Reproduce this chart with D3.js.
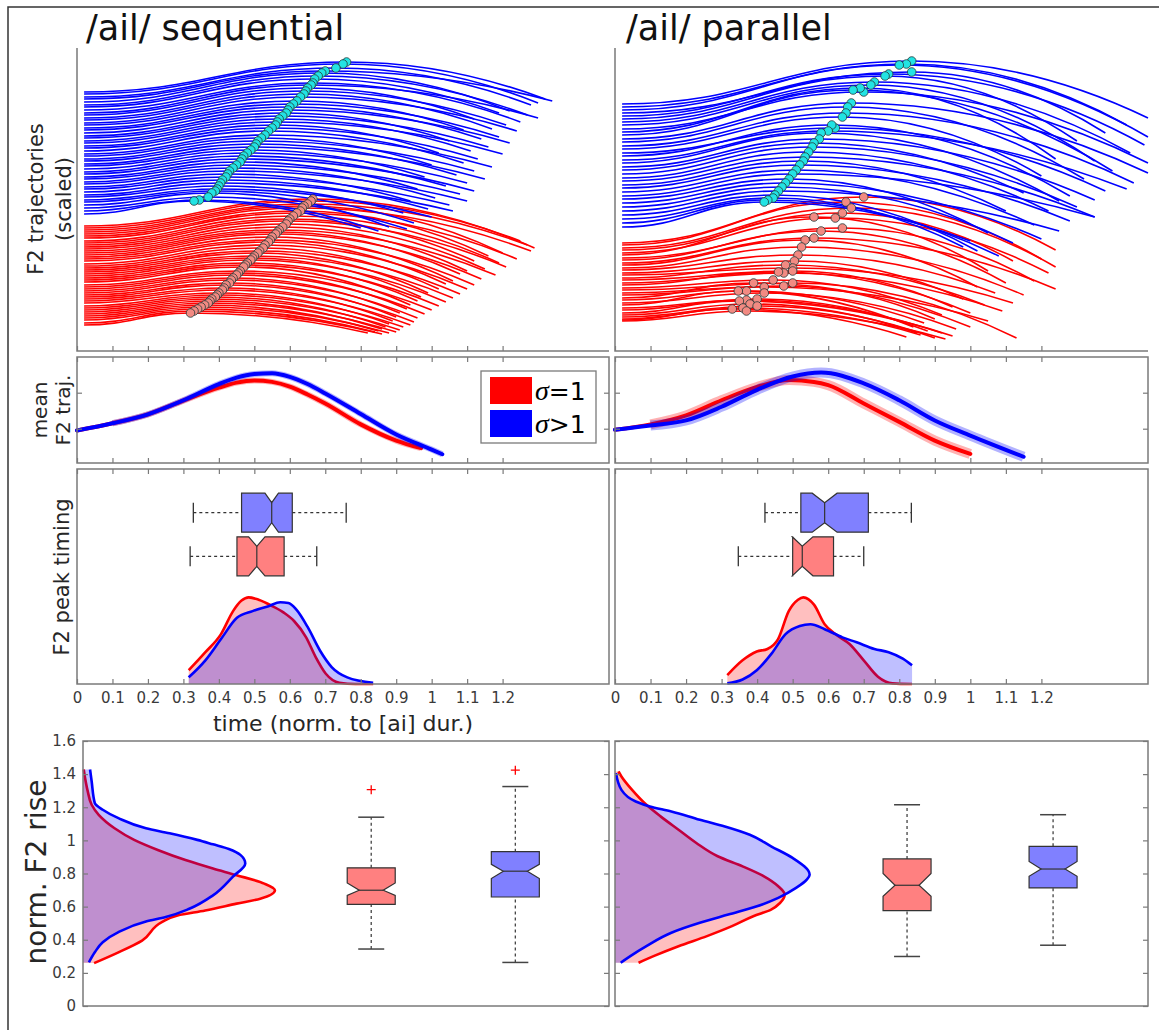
<!DOCTYPE html>
<html>
<head>
<meta charset="utf-8">
<script src="https://cdn.jsdelivr.net/npm/d3@7"></script>
<style>
  body { margin: 0; background: #fff; }
  svg text { font-family: "DejaVu Sans", Verdana, sans-serif; }
</style>
</head>
<body>
<script>
'use strict';

// ---------------- data ----------------
const panelTitles = ["/ail/ sequential", "/ail/ parallel"];
const timeTicks = [0, 0.1, 0.2, 0.3, 0.4, 0.5, 0.6, 0.7, 0.8, 0.9, 1, 1.1, 1.2];
const meanTicks = [0, 1];
const riseTicks = [0, 0.2, 0.4, 0.6, 0.8, 1, 1.2, 1.4, 1.6];
const legendLabels = [["σ", "=1"], ["σ", ">1"]];
const trajStartTime = 0.02;

// single trajectories: [startF2, peakTime, peakF2, endTime, endF2]
const seqBlueTraj = [
  [259,0.76,289,1.32,252],[257,0.75,287,1.30,248],[254,0.73,283,1.28,246],[252,0.70,280,1.34,250],
  [249,0.69,278,1.22,240],[246,0.68,275,1.27,236],[244,0.67,272,1.19,238],[241,0.665,268,1.25,229],
  [238,0.66,266,1.30,233],[236,0.65,263,1.12,232],[233,0.645,260,1.21,226],[231,0.64,257,1.17,222],
  [228,0.63,254,1.24,220],[226,0.62,250,1.09,221],[223,0.61,247,1.19,214],[221,0.60,244,1.14,212],
  [218,0.595,241,1.22,208],[215,0.59,238,1.05,210],[213,0.58,235,1.16,204],[210,0.57,232,1.11,200],
  [208,0.565,229,1.20,197],[205,0.56,226,1.02,198],[203,0.55,223,1.13,192],[200,0.54,220,1.09,188],
  [197,0.53,216,1.17,184],[195,0.52,213,1.00,186],[192,0.51,210,1.12,180],[190,0.505,207,1.07,176],
  [187,0.50,204,1.15,172],[185,0.49,201,0.98,174],[182,0.48,198,1.10,168],[179,0.47,195,1.04,165],
  [177,0.465,192,1.12,160],[174,0.46,189,0.96,162],[172,0.45,186,1.08,157],[169,0.44,183,1.01,153],
  [167,0.43,180,1.10,150],[164,0.425,177,0.94,150],[162,0.42,174,1.05,146],[159,0.41,171,0.99,142],
  [156,0.405,168,1.06,140],[154,0.40,165,0.92,138],[151,0.395,162,1.00,134],[149,0.39,160,0.95,128],
  [146,0.38,158,0.88,124],[143,0.37,154,0.93,122],[140,0.345,151,0.85,120],[137,0.33,150,0.80,123]
];
const seqRedTraj = [
  [125,0.665,152,1.29,103],[123,0.66,150,1.25,110],[121,0.65,147,1.27,106],[119,0.64,145,1.20,98],
  [117,0.635,143,1.28,100],[115,0.63,140,1.16,95],[113,0.62,138,1.24,92],[110,0.61,135,1.19,88],
  [108,0.60,132,1.12,90],[106,0.595,130,1.21,84],[104,0.59,127,1.15,82],[102,0.58,124,1.10,80],
  [100,0.57,121,1.18,76],[98,0.565,119,1.08,77],[96,0.56,117,1.14,72],[94,0.55,114,1.06,70],
  [92,0.545,111,1.12,66],[90,0.54,109,1.04,67],[87,0.53,106,1.10,62],[85,0.525,103,1.02,62],
  [83,0.515,100,1.08,57],[81,0.51,98,0.99,58],[79,0.50,95,1.06,53],[77,0.495,93,0.97,54],
  [75,0.49,91,1.04,49],[73,0.48,88,0.96,50],[71,0.475,86,1.02,45],[69,0.47,84,0.94,46],
  [66,0.46,80,1.00,41],[64,0.455,78,0.93,42],[62,0.45,76,0.98,37],[60,0.44,73,0.91,38],
  [58,0.435,71,0.96,33],[56,0.43,68,0.90,34],[54,0.42,66,0.95,29],[52,0.415,63,0.89,30],
  [50,0.41,61,0.94,26],[48,0.40,58,0.88,27],[45,0.395,56,0.92,24],[43,0.39,54,0.87,24],
  [41,0.38,52,0.91,21],[39,0.375,50,0.86,22],[37,0.37,48,0.90,19],[35,0.36,46,0.85,20],
  [33,0.35,44,0.88,18],[31,0.34,42,0.84,19],[28,0.33,40,0.86,17],[26,0.32,38,0.82,18]
];
const parBlueTraj = [
  [247,0.835,290,1.50,233],[244,0.82,287,1.44,226],[241,0.80,286,1.50,214],[238,0.835,279,1.38,218],
  [235,0.77,277,1.49,206],[232,0.76,275,1.30,210],[229,0.73,269,1.45,198],[226,0.72,266,1.35,190],
  [222,0.70,259,1.50,188],[219,0.69,263,1.24,192],[216,0.67,261,1.40,180],[212,0.665,248,1.50,178],
  [209,0.655,244,1.32,172],[205,0.65,238,1.46,168],[202,0.64,234,1.20,175],[198,0.62,223,1.38,160],
  [195,0.61,226,1.28,155],[191,0.60,220,1.44,162],[188,0.58,218,1.25,150],[184,0.575,212,1.35,151],
  [181,0.56,208,1.15,158],[177,0.555,204,1.30,144],[173,0.545,199,1.22,140],[170,0.535,194,1.35,134],
  [166,0.53,190,1.10,140],[163,0.52,186,1.28,130],[159,0.51,181,1.18,126],[155,0.50,177,1.35,134],
  [152,0.49,172,1.05,118],[148,0.48,168,1.20,112],[144,0.47,164,1.12,108],[140,0.46,160,1.25,120],
  [136,0.45,156,1.02,100],[132,0.445,153,0.98,104],[128,0.43,151,1.08,95],[124,0.42,149,1.00,110]
];
const parRedTraj = [
  [108,0.70,154,1.24,101],[106,0.65,149,1.20,92],[103,0.665,143,1.24,84],[101,0.64,138,1.12,90],
  [98,0.62,133,1.22,78],[96,0.56,134,1.05,80],[93,0.64,123,1.18,70],[91,0.58,120,1.10,68],
  [88,0.56,113,1.24,62],[86,0.535,111,1.02,64],[83,0.525,104,1.15,56],[81,0.515,96,1.07,58],
  [78,0.505,90,0.98,52],[76,0.50,83,1.12,48],[73,0.48,86,1.04,46],[71,0.50,80,0.95,44],
  [68,0.475,78,1.09,40],[66,0.46,79,1.00,38],[63,0.445,71,0.92,36],[61,0.50,68,1.13,13],
  [58,0.42,64,1.05,30],[56,0.475,65,0.90,32],[53,0.39,68,1.00,24],[51,0.37,60,0.87,28],
  [48,0.42,58,0.96,22],[46,0.347,60,0.84,24],[43,0.37,51,0.92,18],[41,0.40,52,0.88,20],
  [38,0.35,50,0.95,15],[36,0.38,47,0.85,18],[34,0.40,45,0.90,13],[32,0.36,43,0.86,16],
  [31,0.33,42,0.82,14],[30,0.37,40,0.93,12]
];

// mean F2 trajectories: [time, value]
const seqMeanRed = [[0,-0.05],[0.1,0.15],[0.2,0.4],[0.3,0.78],[0.4,1.14],[0.45,1.28],[0.5,1.34],[0.55,1.3],
  [0.6,1.17],[0.65,0.95],[0.7,0.7],[0.8,0.12],[0.9,-0.33],[0.97,-0.54]];
const seqMeanBlue = [[0,-0.05],[0.1,0.15],[0.2,0.4],[0.3,0.79],[0.4,1.24],[0.45,1.42],[0.5,1.52],[0.55,1.54],
  [0.6,1.44],[0.65,1.24],[0.7,0.98],[0.8,0.41],[0.9,-0.16],[1.0,-0.58],[1.03,-0.71]];
const parMeanRed = [[0,-0.03],[0.1,0.12],[0.2,0.37],[0.3,0.79],[0.4,1.16],[0.49,1.35],[0.56,1.3],[0.6,1.21],
  [0.7,0.7],[0.8,0.19],[0.9,-0.33],[1.0,-0.7]];
const parMeanBlue = [[0,-0.03],[0.1,0.09],[0.2,0.23],[0.3,0.61],[0.4,1.08],[0.5,1.45],[0.58,1.56],[0.7,1.26],
  [0.8,0.79],[0.9,0.23],[1.0,-0.19],[1.15,-0.78]];

// boxplots: [whiskerLo, q1, notchLo, median, notchHi, q3, whiskerHi]
const seqPeakBoxRed = [0.319, 0.451, 0.484, 0.507, 0.530, 0.584, 0.676];
const seqPeakBoxBlue = [0.328, 0.464, 0.530, 0.549, 0.568, 0.607, 0.759];
const parPeakBoxRed = [0.347, 0.500, 0.499, 0.527, 0.557, 0.615, 0.700];
const parPeakBoxBlue = [0.422, 0.523, 0.555, 0.590, 0.625, 0.713, 0.834];

// peak timing densities: [time, density]
const seqPeakDensRed = [[0.315,0.064],[0.362,0.148],[0.406,0.232],[0.44,0.339],[0.464,0.388],[0.484,0.403],
  [0.512,0.392],[0.551,0.362],[0.584,0.331],[0.612,0.293],[0.646,0.217],[0.673,0.125],[0.701,0.049],
  [0.74,0.006],[0.785,0],[0.835,0]];
const seqPeakDensBlue = [[0.315,0.031],[0.362,0.11],[0.406,0.209],[0.451,0.308],[0.495,0.339],[0.54,0.362],
  [0.573,0.38],[0.596,0.377],[0.618,0.347],[0.651,0.263],[0.685,0.156],[0.718,0.079],[0.762,0.031],[0.835,0.006]];
const parPeakDensRed = [[0.316,0.041],[0.359,0.11],[0.399,0.151],[0.429,0.163],[0.459,0.209],[0.489,0.339],
  [0.515,0.392],[0.53,0.403],[0.56,0.369],[0.59,0.278],[0.62,0.232],[0.66,0.186],[0.7,0.11],[0.74,0.034],
  [0.781,0.003],[0.836,0]];
const parPeakDensBlue = [[0.316,0.003],[0.359,0.021],[0.399,0.064],[0.44,0.14],[0.48,0.232],[0.52,0.27],
  [0.55,0.278],[0.59,0.255],[0.64,0.217],[0.68,0.194],[0.73,0.163],[0.77,0.148],[0.81,0.118],[0.836,0.087]];

// normalised F2 rise
const seqRiseBoxRed = [0.344, 0.614, 0.668, 0.699, 0.743, 0.834, 1.140];
const seqRiseBoxBlue = [0.263, 0.658, 0.770, 0.814, 0.855, 0.932, 1.325];
const parRiseBoxRed = [0.299, 0.576, 0.663, 0.729, 0.800, 0.888, 1.215];
const parRiseBoxBlue = [0.367, 0.713, 0.783, 0.827, 0.873, 0.964, 1.155];
const seqRiseOutRed = [1.306];
const seqRiseOutBlue = [1.424];
const parRiseOutRed = [];
const parRiseOutBlue = [];

// rise densities: [rise, density]
const seqRiseDensRed = [[0.259,0.077],[0.324,0.246],[0.395,0.41],[0.506,0.547],[0.547,0.656],[0.577,0.848],
  [0.618,1.066],[0.648,1.23],[0.699,1.332],[0.739,1.258],[0.79,1.066],[0.83,0.902],[0.881,0.711],[0.942,0.519],
  [1.003,0.355],[1.073,0.219],[1.154,0.109],[1.215,0.06],[1.296,0.033],[1.428,0.005]];
const seqRiseDensBlue = [[0.263,0.041],[0.324,0.082],[0.385,0.137],[0.446,0.246],[0.51,0.437],[0.537,0.574],
  [0.587,0.738],[0.668,0.902],[0.78,1.039],[0.861,1.126],[0.911,1.094],[0.948,1.012],[0.976,0.902],
  [1.003,0.793],[1.043,0.601],[1.073,0.437],[1.134,0.246],[1.185,0.137],[1.225,0.082],[1.357,0.06],[1.428,0.049]];
const parRiseDensRed = [[0.261,0.161],[0.301,0.264],[0.361,0.435],[0.422,0.63],[0.482,0.801],[0.542,0.947],
  [0.582,1.069],[0.622,1.13],[0.673,1.162],[0.723,1.118],[0.783,1.02],[0.843,0.874],[0.904,0.703],[0.984,0.557],
  [1.064,0.435],[1.145,0.312],[1.215,0.215],[1.305,0.117],[1.386,0.044],[1.416,0.024]];
const parRiseDensBlue = [[0.261,0.039],[0.301,0.105],[0.361,0.215],[0.442,0.386],[0.502,0.581],[0.552,0.776],
  [0.602,0.972],[0.653,1.118],[0.713,1.24],[0.763,1.313],[0.793,1.333],[0.894,1.216],[0.964,1.069],[1.034,0.923],
  [1.084,0.752],[1.124,0.581],[1.175,0.386],[1.205,0.239],[1.235,0.142],[1.305,0.044],[1.406,0.007]];

// ---------------- drawing ----------------
const RED = "#ff0000", BLUE = "#0000ff";
const AXIS = "#7a7a7a";
let svg;

window.onload = function() {
  svg = d3.select("body").append("svg").attr("width", 1159).attr("height", 1030);

  // outer frame (only top and left edges visible)
  svg.append("path").attr("d", "M8,1030V7H1159").attr("fill", "none")
    .attr("stroke", "#333").attr("stroke-width", 1.5);

  const cols = [
    { x0: 77, x1: 609, rx0: 83, titleX: 86, title: panelTitles[0],
      traj: [seqRedTraj, seqBlueTraj], mean: [seqMeanRed, seqMeanBlue], band: 6,
      peakBox: [seqPeakBoxRed, seqPeakBoxBlue], peakDens: [seqPeakDensRed, seqPeakDensBlue],
      riseBox: [seqRiseBoxRed, seqRiseBoxBlue], riseOut: [seqRiseOutRed, seqRiseOutBlue],
      riseDens: [seqRiseDensRed, seqRiseDensBlue], first: true },
    { x0: 615, x1: 1148, rx0: 615, titleX: 626, title: panelTitles[1],
      traj: [parRedTraj, parBlueTraj], mean: [parMeanRed, parMeanBlue], band: 10,
      peakBox: [parPeakBoxRed, parPeakBoxBlue], peakDens: [parPeakDensRed, parPeakDensBlue],
      riseBox: [parRiseBoxRed, parRiseBoxBlue], riseOut: [parRiseOutRed, parRiseOutBlue],
      riseDens: [parRiseDensRed, parRiseDensBlue], first: false }
  ];
  cols.forEach(drawColumn);

  // y labels
  vLabel(36, 199, "F2 trajectories", 21);
  vLabel(64, 199, "(scaled)", 21);
  vLabel(40, 410, "mean", 20);
  vLabel(63, 410, "F2 traj.", 20);
  vLabel(62, 577, "F2 peak timing", 21);
  vLabel(36, 872, "norm. F2 rise", 28);

  svg.append("text").attr("x", 343).attr("y", 731).attr("text-anchor", "middle")
    .style("font-size", "22px").attr("fill", "#262626").text("time (norm. to [ai] dur.)");
};

function vLabel(x, y, txt, size) {
  svg.append("text").attr("transform", `translate(${x},${y}) rotate(-90)`)
    .attr("text-anchor", "middle").attr("dominant-baseline", "central")
    .style("font-size", size + "px").attr("fill", "#262626").text(txt);
}

function styleAxis(g) {
  g.select(".domain").remove();
  g.selectAll("line").attr("stroke", AXIS).attr("stroke-width", 1.2);
  g.selectAll("text").style("font-size", "15px").attr("fill", "#3a3a3a");
}

function boxFrame(x0, y0, x1, y1) {
  svg.append("rect").attr("x", x0).attr("y", y0).attr("width", x1 - x0).attr("height", y1 - y0)
    .attr("fill", "none").attr("stroke", AXIS).attr("stroke-width", 1.5);
}

function timeAxis(scale, y, orient, labels) {
  const ax = (orient === "bottom" ? d3.axisBottom(scale) : d3.axisTop(scale))
    .tickValues(timeTicks).tickSizeInner(-5).tickSizeOuter(0).tickPadding(8)
    .tickFormat(labels ? d3.format("~g") : "");
  svg.append("g").attr("transform", `translate(0,${y})`).call(ax).call(styleAxis);
}

function valueAxis(scale, ticks, x, orient, labels) {
  const ax = (orient === "left" ? d3.axisLeft(scale) : d3.axisRight(scale))
    .tickValues(ticks).tickSizeInner(-5).tickSizeOuter(0).tickPadding(7)
    .tickFormat(labels ? d3.format("~g") : "");
  svg.append("g").attr("transform", `translate(${x},0)`).call(ax).call(styleAxis);
}

// rise to the peak with flat ends, then a fall that steepens towards the end
function trajPath(r, x, y) {
  const p = d3.path();
  const xs = x(trajStartTime), ys = y(r[0]);
  const xp = x(r[1]), yp = y(r[2]);
  const xe = x(r[3]), ye = y(r[4]);
  const dx = xp - xs, dx2 = xe - xp;
  p.moveTo(xs, ys);
  p.bezierCurveTo(xs + dx * 0.45, ys, xp - dx * 0.45, yp, xp, yp);
  p.quadraticCurveTo(xp + dx2 * 0.5, yp, xe, ye);
  return p.toString();
}

function drawColumn(c) {
  const xT = d3.scaleLinear().domain([0, 1.5]).range([c.x0, c.x1]);
  const yTraj = d3.scaleLinear().domain([0, 303]).range([351, 48]);
  const yMean = d3.scaleLinear().domain([0, 1]).range([428.7, 392.7]);
  const yPeak = d3.scaleLinear().domain([0, 1]).range([684, 469]);
  const xRise = d3.scaleLinear().domain([0, 3.65]).range([c.rx0, c.x1]);
  const yRise = d3.scaleLinear().domain([0, 1.6]).range([1006, 741]);
  const colors = [RED, BLUE];

  // title
  svg.append("text").attr("x", c.titleX).attr("y", 40).style("font-size", "35px")
    .attr("fill", "#111").text(c.title);

  // ---- trajectories ----
  c.traj.forEach((rows, i) => {
    svg.append("g").selectAll("path").data(rows).enter().append("path")
      .attr("d", r => trajPath(r, xT, yTraj))
      .attr("fill", "none").attr("stroke", colors[i]).attr("stroke-width", 1.6);
  });
  const dotFill = ["#f28a82", "#22e3e3"];
  c.traj.forEach((rows, i) => {
    svg.append("g").selectAll("circle").data(rows).enter().append("circle")
      .attr("cx", r => xT(r[1])).attr("cy", r => yTraj(r[2])).attr("r", 4.3)
      .attr("fill", dotFill[i]).attr("stroke", "#263a3a").attr("stroke-width", 0.8);
  });
  svg.append("path").attr("d", `M${c.x0},48V351H${c.x1}`).attr("fill", "none")
    .attr("stroke", AXIS).attr("stroke-width", 1.5);
  timeAxis(xT, 351, "bottom", false);

  // ---- mean trajectories ----
  const meanLine = d3.line().x(d => xT(d[0])).y(d => yMean(d[1])).curve(d3.curveMonotoneX);
  c.mean.forEach((pts, i) => {
    // confidence band (grows after onset)
    svg.append("path").attr("d", meanLine(pts.slice(1))).attr("fill", "none").attr("stroke", colors[i])
      .attr("stroke-opacity", 0.3).attr("stroke-width", c.band).attr("stroke-linecap", "butt");
    svg.append("path").attr("d", meanLine(pts)).attr("fill", "none").attr("stroke", colors[i])
      .attr("stroke-width", 4).attr("stroke-linecap", "round");
  });
  boxFrame(c.x0, 357, c.x1, 463);
  timeAxis(xT, 357, "top", false);
  timeAxis(xT, 463, "bottom", false);
  valueAxis(yMean, meanTicks, c.x0, "left", false);
  valueAxis(yMean, meanTicks, c.x1, "right", false);

  if (c.first) {
    const lg = svg.append("g");
    lg.append("rect").attr("x", 481).attr("y", 371).attr("width", 115).attr("height", 72)
      .attr("fill", "#fff").attr("stroke", AXIS).attr("stroke-width", 1.3);
    legendLabels.forEach((lab, i) => {
      lg.append("rect").attr("x", 490).attr("y", 377 + i * 33).attr("width", 42).attr("height", 27)
        .attr("fill", colors[i]);
      const t = lg.append("text").attr("x", 535).attr("y", 400 + i * 33)
        .style("font-size", "25px").attr("fill", "#000");
      t.append("tspan").style("font-family", "'Liberation Serif', serif").style("font-style", "italic")
        .style("font-size", "28px").text(lab[0]);
      t.append("tspan").text(lab[1]);
    });
  }

  // ---- peak timing ----
  const peakArea = d3.area().x(d => xT(d[0])).y0(yPeak(0)).y1(d => yPeak(d[1])).curve(d3.curveMonotoneX);
  const peakLine = d3.line().x(d => xT(d[0])).y(d => yPeak(d[1])).curve(d3.curveMonotoneX);
  const fills = ["rgba(255,0,0,0.25)", "rgba(0,0,255,0.25)"];
  c.peakDens.forEach((pts, i) => {
    svg.append("path").attr("d", peakArea(pts)).attr("fill", fills[i]);
    svg.append("path").attr("d", peakLine(pts)).attr("fill", "none").attr("stroke", colors[i])
      .attr("stroke-width", 2.6);
  });
  const boxFills = ["#ff8080", "#8080ff"];
  const peakPos = [556.3, 512.7]; // box centre rows (red, blue)
  c.peakBox.forEach((b, i) => hBox(b, peakPos[i], xT, boxFills[i]));
  boxFrame(c.x0, 469, c.x1, 684);
  timeAxis(xT, 469, "top", false);
  timeAxis(xT, 684, "bottom", true);

  // ---- F2 rise ----
  const riseArea = d3.area().y(d => yRise(d[0])).x0(xRise(0)).x1(d => xRise(d[1])).curve(d3.curveMonotoneY);
  const riseLine = d3.line().y(d => yRise(d[0])).x(d => xRise(d[1])).curve(d3.curveMonotoneY);
  c.riseDens.forEach((pts, i) => {
    svg.append("path").attr("d", riseArea(pts)).attr("fill", fills[i]);
    svg.append("path").attr("d", riseLine(pts)).attr("fill", "none").attr("stroke", colors[i])
      .attr("stroke-width", 2.6);
  });
  const risePos = [2, 3];
  c.riseBox.forEach((b, i) => vBox(b, xRise(risePos[i]), yRise, boxFills[i]));
  c.riseOut.forEach((vals, i) => {
    svg.append("g").selectAll("path").data(vals).enter().append("path")
      .attr("transform", v => `translate(${xRise(risePos[i])},${yRise(v)})`)
      .attr("d", "M-4.5,0H4.5M0,-4.5V4.5").attr("stroke", RED).attr("stroke-width", 1.3);
  });
  boxFrame(c.rx0, 741, c.x1, 1006);
  valueAxis(yRise, riseTicks, c.rx0, "left", c.first);
  valueAxis(yRise, riseTicks, c.x1, "right", false);
}

// horizontal notched boxplot
function hBox(b, yc, x, fill) {
  const [wLo, q1, nLo, med, nHi, q3, wHi] = b;
  const hh = 19.5, nh = 10, ch = 10;
  const g = svg.append("g");
  [[wLo, q1], [q3, wHi]].forEach(s => {
    g.append("line").attr("x1", x(s[0])).attr("x2", x(s[1])).attr("y1", yc).attr("y2", yc)
      .attr("stroke", "#333").attr("stroke-width", 1.2).attr("stroke-dasharray", "3,3");
  });
  [wLo, wHi].forEach(v => {
    g.append("line").attr("x1", x(v)).attr("x2", x(v)).attr("y1", yc - ch).attr("y2", yc + ch)
      .attr("stroke", "#333").attr("stroke-width", 1.3);
  });
  const pts = [[x(q1), yc - hh], [x(nLo), yc - hh], [x(med), yc - nh], [x(nHi), yc - hh], [x(q3), yc - hh],
    [x(q3), yc + hh], [x(nHi), yc + hh], [x(med), yc + nh], [x(nLo), yc + hh], [x(q1), yc + hh]];
  g.append("polygon").attr("points", pts.map(p => p.join(",")).join(" "))
    .attr("fill", fill).attr("stroke", "#333").attr("stroke-width", 1.2);
  g.append("line").attr("x1", x(med)).attr("x2", x(med)).attr("y1", yc - nh).attr("y2", yc + nh)
    .attr("stroke", "#333").attr("stroke-width", 1.2);
}

// vertical notched boxplot
function vBox(b, xc, y, fill) {
  const [wLo, q1, nLo, med, nHi, q3, wHi] = b;
  const hw = 24, nw = 12, cw = 13;
  const g = svg.append("g");
  [[wLo, q1], [q3, wHi]].forEach(s => {
    g.append("line").attr("x1", xc).attr("x2", xc).attr("y1", y(s[0])).attr("y2", y(s[1]))
      .attr("stroke", "#444").attr("stroke-width", 1.3).attr("stroke-dasharray", "3,3");
  });
  [wLo, wHi].forEach(v => {
    g.append("line").attr("x1", xc - cw).attr("x2", xc + cw).attr("y1", y(v)).attr("y2", y(v))
      .attr("stroke", "#444").attr("stroke-width", 1.5);
  });
  const pts = [[xc - hw, y(q1)], [xc - hw, y(nLo)], [xc - nw, y(med)], [xc - hw, y(nHi)], [xc - hw, y(q3)],
    [xc + hw, y(q3)], [xc + hw, y(nHi)], [xc + nw, y(med)], [xc + hw, y(nLo)], [xc + hw, y(q1)]];
  g.append("polygon").attr("points", pts.map(p => p.join(",")).join(" "))
    .attr("fill", fill).attr("stroke", "#333").attr("stroke-width", 1.2);
  g.append("line").attr("x1", xc - nw).attr("x2", xc + nw).attr("y1", y(med)).attr("y2", y(med))
    .attr("stroke", "#333").attr("stroke-width", 1.2);
}
</script>
</body>
</html>
